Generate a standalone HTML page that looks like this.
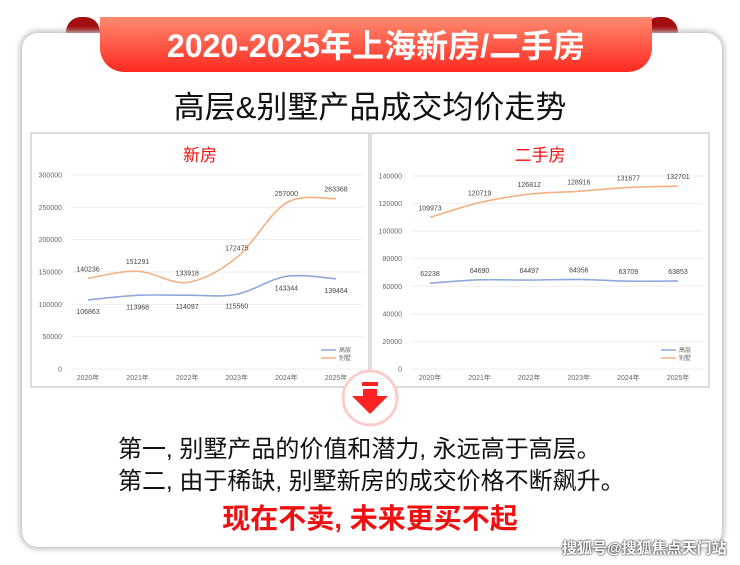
<!DOCTYPE html>
<html><head><meta charset="utf-8">
<style>
body{margin:0;width:740px;height:565px;background:#fff;position:relative;overflow:hidden;font-family:"Liberation Sans","Noto Sans CJK SC",sans-serif;}
.card{position:absolute;left:22px;top:33px;width:700px;height:514px;border-radius:16px;background:#fff;box-shadow:0 0 6px 2px #bbb;}
.ear{position:absolute;top:17px;width:34px;height:30px;background:#a40d0d;border-radius:15px 15px 0 0;}
.rib{position:absolute;left:100px;top:17px;width:552px;height:55px;background:linear-gradient(#ff8a70,#ff2a20);border-radius:0 0 24px 24px;color:#fff;font-weight:bold;font-size:32px;text-align:center;line-height:58px;letter-spacing:0px;}
.sub{position:absolute;left:0;width:740px;top:82px;text-align:center;font-size:31px;color:#111;}
.t{position:absolute;left:118px;font-size:24px;color:#111;}
</style></head><body>
<div class="ear" style="left:66px"></div><div class="ear" style="left:644px"></div>
<div class="card"></div>
<div class="rib">2020-2025年上海新房/二手房</div>
<div class="sub">高层&amp;别墅产品成交均价走势</div>
<svg id="s" width="740" height="565" style="position:absolute;left:0;top:0" font-family="Liberation Sans, Noto Sans CJK SC, sans-serif"></svg>
<div class="t" style="top:429px">第一, 别墅产品的价值和潜力, 永远高于高层。</div>
<div class="t" style="top:461px">第二, 由于稀缺, 别墅新房的成交价格不断飙升。</div>
<div style="position:absolute;left:0;width:740px;top:497px;text-align:center;font-size:28px;font-weight:bold;color:#f01010">现在不卖, 未来更买不起</div>
<div style="position:absolute;left:562px;top:537px;font-size:15px;color:#fff;font-weight:bold;text-shadow:0 0 2px #444,0 0 2px #444">搜狐号@搜狐焦点天门站</div>
<script>
var s=document.getElementById('s'),h='';
function panel(x0,title,max,step,ys,y0,xs,ser,lblBelow){
 h+='<rect x="'+x0+'" y="133" width="338" height="254" fill="#fff" stroke="#bbb"/>';
 h+='<text x="'+(x0+169)+'" y="161" text-anchor="middle" font-size="17" fill="#f01010">'+title+'</text>';
 var top=ys;
 for(var v=0;v<=max;v+=step){var y=y0-(v/max)*(y0-top);
  h+='<line x1="'+(x0+40)+'" x2="'+(x0+332)+'" y1="'+y+'" y2="'+y+'" stroke="#eee"/>';
  h+='<text x="'+(x0+31)+'" y="'+(y+2.5)+'" text-anchor="end" font-size="7" fill="#666">'+v+'</text>';}
 for(var i=0;i<6;i++)h+='<text x="'+(xs+i*49.6)+'" y="'+(y0+11)+'" text-anchor="middle" font-size="7" fill="#666">'+(2020+i)+'年</text>';
 ser.forEach(function(sr,k){
  var p=sr.d.map(function(v,i){return [xs+i*49.6,y0-(v/max)*(y0-top)];});
  var d='M'+p[0];
  for(var i=0;i<p.length-1;i++){var a=p[i-1]||p[i],b=p[i],c=p[i+1],e=p[i+2]||c;
   d+=' C'+(b[0]+(c[0]-a[0])/6)+','+(b[1]+(c[1]-a[1])/6)+' '+(c[0]-(e[0]-b[0])/6)+','+(c[1]-(e[1]-b[1])/6)+' '+c;}
  h+='<path d="'+d+'" fill="none" stroke="'+sr.c+'" stroke-width="1.6"/>';
  p.forEach(function(q,i){var dy=(lblBelow&&k==0)?14:-7;
   h+='<text x="'+q[0]+'" y="'+(q[1]+dy)+'" text-anchor="middle" font-size="7" fill="#444">'+sr.d[i]+'</text>';});
 });
 h+='<line x1="'+(x0+290)+'" x2="'+(x0+305)+'" y1="350" y2="350" stroke="#8fa8dc" stroke-width="1.5"/><text x="'+(x0+308)+'" y="352" font-size="6" fill="#666">高层</text>';
 h+='<line x1="'+(x0+290)+'" x2="'+(x0+305)+'" y1="358" y2="358" stroke="#f4b183" stroke-width="1.5"/><text x="'+(x0+308)+'" y="360" font-size="6" fill="#666">别墅</text>';
}
panel(31,'新房',300000,50000,175,369,88,[{c:'#8fa8dc',d:[106863,113968,114097,115560,143344,139464]},{c:'#f4b183',d:[140236,151291,133918,172475,257000,263368]}],true);
panel(371,'二手房',140000,20000,176,369,430,[{c:'#8fa8dc',d:[62238,64690,64497,64956,63709,63853]},{c:'#f4b183',d:[109973,120719,126812,128916,131677,132701]}],false);
h+='<circle cx="370" cy="398" r="27" fill="#fff" stroke="#fcc" stroke-width="3"/>';
h+='<rect x="362" y="382" width="16" height="4" fill="#f22"/><rect x="363" y="389" width="14" height="8" fill="#f22"/><polygon points="352,396 388,396 370,414" fill="#f22"/>';
s.innerHTML=h;
</script>
</body></html>
